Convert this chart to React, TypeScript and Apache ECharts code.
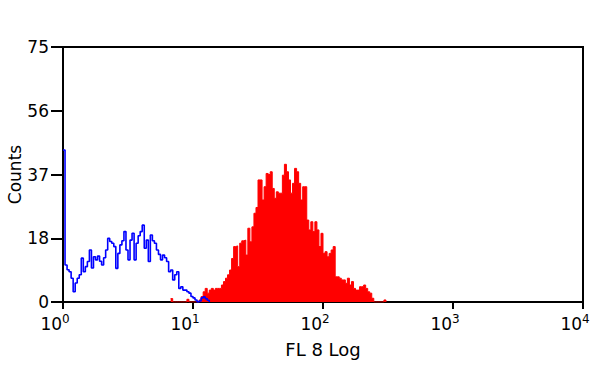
import React, { useEffect, useRef } from "react";
import * as echarts from "echarts";

// 256 channels over 4 decades -> 64 channels per decade
const CHANNELS_PER_DECADE = 64;
const decadeTicks = [0, 1, 2, 3, 4];
const countTicks = [0, 18.75, 37.5, 56.25, 75];

// Isotype control (blue), starting at channel 0
const blueStart = 0;
const blueCounts = [
  44.7, 10.9, 9.5, 8.9, 7, 3, 5.6, 7, 8, 12.9,
  8.9, 10.4, 11.9, 15.3, 10, 13.3, 12.4, 13.5, 12, 10.9,
  13, 15.3, 18.7, 17.8, 17.3, 16.3, 9.9, 14.3, 16.8, 18,
  20.7, 15.3, 12.4, 18.2, 20.2, 12.4, 17.3, 19.5, 20.7, 22.6,
  15.8, 18.2, 11.9, 19.7, 18, 17.3, 15.3, 14, 12.4, 13.8,
  13, 11.9, 8.9, 9.4, 6.5, 8, 8.9, 4, 4.5, 3.5,
  3.5, 3, 2.6, 1.6, 1.2, 0.6, 0, 0.3, 1.2, 1.5,
  1, 0.5, 0,
];

// Stained sample (red), starting at channel 53
const redStart = 53;
const redCounts = [
  1.0, 0, 0, 0, 0, 0, 0, 0, 0.8, 0,
  0, 0, 0, 0, 0.6, 1.6, 3, 4, 2.6, 3.5,
  4, 3.5, 4, 4, 4, 5, 6, 7, 8, 9.4,
  12.8, 16.3, 16.5, 10.4, 17.3, 18, 18.2, 13.8, 21.7, 17.7,
  22.1, 26.1, 27.8, 35.9, 35.9, 30, 33.9, 37.8, 37.5, 38.3,
  33.4, 30.5, 32.4, 32, 32, 37.3, 40.5, 38.3, 35.9, 32,
  34.9, 39.3, 38.3, 34.9, 30, 33.9, 33.9, 24.1, 21.2, 23.6,
  20.7, 23.6, 21.2, 16.3, 20.2, 14.3, 14.8, 13.3, 14.3, 15.3,
  16.3, 7.4, 7.4, 7, 6.5, 6.5, 5.5, 7, 5, 6,
  4, 3.5, 3.5, 4.5, 4.5, 5, 4, 3, 2.6, 1.1,
  0, 0, 0, 0, 0, 0.6, 0,
];

const toPoints = (start: number, counts: number[]) =>
  counts.map((c, i) => [(start + i) / CHANNELS_PER_DECADE, c]);

const FONT = "DejaVu Sans";

export default function App() {
  const ref = useRef<HTMLDivElement>(null);
  useEffect(() => {
    if (!ref.current) return;
    const chart = echarts.init(ref.current, undefined, { renderer: "svg" });
    chart.setOption({
      animation: false,
      backgroundColor: "#ffffff",
      grid: {
        left: 63,
        right: 17,
        top: 47,
        bottom: 66,
        containLabel: false,
        outerBoundsMode: "none",
        show: true,
        borderColor: "#000000",
        borderWidth: 2,
      },
      xAxis: {
        type: "value",
        min: decadeTicks[0],
        max: decadeTicks[decadeTicks.length - 1],
        interval: 1,
        name: "FL 8 Log",
        nameLocation: "middle",
        nameGap: 38,
        nameMoveOverlap: false,
        nameTextStyle: { fontFamily: FONT, fontSize: 18, color: "#000" },
        axisLine: { lineStyle: { color: "#000", width: 2 } },
        axisTick: { length: 7, lineStyle: { color: "#000", width: 2 } },
        splitLine: { show: false },
        axisLabel: {
          margin: 12,
          padding: [0, 16, 0, 0],
          formatter: (v: number) => `{b|10}{s|${Math.round(v)}}`,
          rich: {
            b: { fontFamily: FONT, fontSize: 17, color: "#000", lineHeight: 20 },
            s: { fontFamily: FONT, fontSize: 12, color: "#000", lineHeight: 20, padding: [0, 0, 10, 0] },
          },
        },
      },
      yAxis: {
        type: "value",
        min: countTicks[0],
        max: countTicks[countTicks.length - 1],
        interval: countTicks[1] - countTicks[0],
        name: "Counts",
        nameLocation: "middle",
        nameGap: 39,
        nameMoveOverlap: false,
        nameRotate: 90,
        nameTextStyle: { fontFamily: FONT, fontSize: 17, color: "#000", lineHeight: 18 },
        axisLine: { show: true, lineStyle: { color: "#000", width: 2 } },
        axisTick: { show: true, length: 12, lineStyle: { color: "#000", width: 2 } },
        splitLine: { show: false },
        axisLabel: {
          margin: 14,
          fontFamily: FONT,
          fontSize: 17,
          color: "#000",
          formatter: (v: number) => String(Math.floor(v)),
        },
      },
      series: [
        {
          type: "line",
          step: "end",
          symbol: "none",
          data: toPoints(redStart, redCounts),
          lineStyle: { color: "#ff0000", width: 1 },
          itemStyle: { color: "#ff0000" },
          areaStyle: { color: "#ff0000", opacity: 1 },
          z: 2,
        },
        {
          type: "line",
          step: "end",
          symbol: "none",
          data: toPoints(blueStart, blueCounts),
          lineStyle: { color: "#0000ff", width: 1.6 },
          itemStyle: { color: "#0000ff" },
          z: 3,
        },
      ],
    });
    return () => chart.dispose();
  }, []);
  return <div ref={ref} style={{ width: 600, height: 368, position: "absolute", left: 0, top: 0 }} />;
}
